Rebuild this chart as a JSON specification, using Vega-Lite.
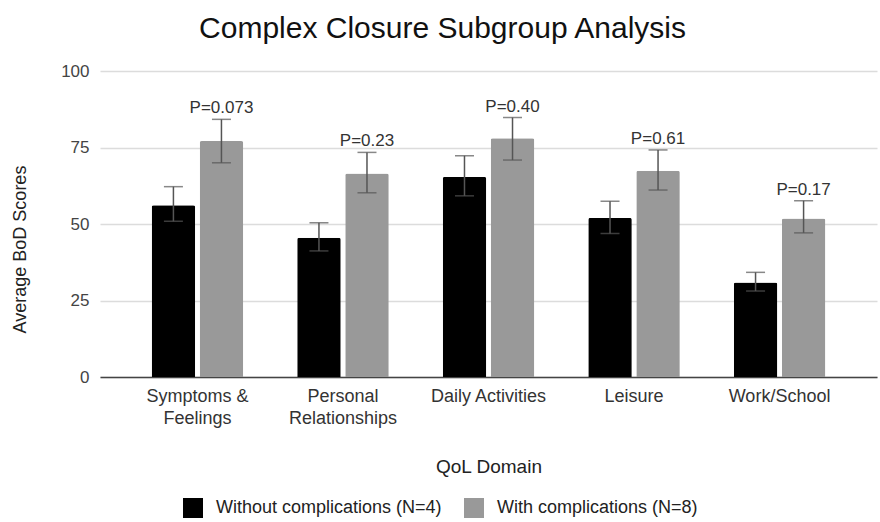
{
  "$schema": "https://vega.github.io/schema/vega-lite/v6.json",
  "width": 777,
  "height": 306,
  "autosize": {"type": "none"},
  "padding": {"left": 100, "top": 71, "right": 3, "bottom": 145},
  "background": "white",
  "config": {"font": "Liberation Sans", "view": {"stroke": null}},
  "title": {"text": "Complex Closure Subgroup Analysis", "fontSize": 30, "fontWeight": "normal", "color": "#111", "anchor": "middle", "dx": -46, "offset": 18},
  "data": {"values": [
    {"domain": "Symptoms & Feelings", "group": "Without complications (N=4)", "mean": 56.1, "lo": 50.9, "hi": 62.2, "p": null},
    {"domain": "Symptoms & Feelings", "group": "With complications (N=8)", "mean": 77.1, "lo": 70.0, "hi": 84.2, "p": "P=0.073"},
    {"domain": "Personal Relationships", "group": "Without complications (N=4)", "mean": 45.5, "lo": 41.2, "hi": 50.4, "p": null},
    {"domain": "Personal Relationships", "group": "With complications (N=8)", "mean": 66.5, "lo": 60.2, "hi": 73.4, "p": "P=0.23"},
    {"domain": "Daily Activities", "group": "Without complications (N=4)", "mean": 65.4, "lo": 59.2, "hi": 72.3, "p": null},
    {"domain": "Daily Activities", "group": "With complications (N=8)", "mean": 78.0, "lo": 70.9, "hi": 84.8, "p": "P=0.40"},
    {"domain": "Leisure", "group": "Without complications (N=4)", "mean": 52.0, "lo": 46.9, "hi": 57.4, "p": null},
    {"domain": "Leisure", "group": "With complications (N=8)", "mean": 67.4, "lo": 61.1, "hi": 74.2, "p": "P=0.61"},
    {"domain": "Work/School", "group": "Without complications (N=4)", "mean": 30.9, "lo": 28.1, "hi": 34.2, "p": null},
    {"domain": "Work/School", "group": "With complications (N=8)", "mean": 51.8, "lo": 47.1, "hi": 57.6, "p": "P=0.17"}
  ]},
  "encoding": {
    "x": {
      "field": "domain", "type": "nominal",
      "sort": ["Symptoms & Feelings", "Personal Relationships", "Daily Activities", "Leisure", "Work/School"],
      "scale": {"paddingInner": 0.371, "paddingOuter": 0.355},
      "axis": {
        "title": "QoL Domain", "titleFontSize": 19, "titleFontWeight": "normal", "titleColor": "#222",
        "titleY": 89, "titleBaseline": "middle",
        "labelAngle": 0, "labelFontSize": 18, "labelColor": "#333", "labelPadding": 10, "labelLineHeight": 22, "labelLimit": 300,
        "labelExpr": "datum.label == 'Symptoms & Feelings' ? ['Symptoms &', 'Feelings'] : datum.label == 'Personal Relationships' ? ['Personal', 'Relationships'] : datum.label",
        "ticks": false, "domain": true, "domainColor": "#444", "domainWidth": 1.5
      }
    },
    "xOffset": {
      "field": "group", "type": "nominal",
      "sort": ["Without complications (N=4)", "With complications (N=8)"],
      "scale": {"paddingInner": 0.094, "paddingOuter": 0}
    }
  },
  "layer": [
    {
      "mark": {"type": "bar", "cornerRadiusTopLeft": 2, "cornerRadiusTopRight": 2},
      "encoding": {
        "y": {
          "field": "mean", "type": "quantitative",
          "scale": {"domain": [0, 100]},
          "axis": {
            "values": [0, 25, 50, 75, 100], "domain": false, "ticks": false,
            "grid": true, "gridColor": "#dcdcdc", "gridWidth": 1.5,
            "labelFontSize": 17, "labelColor": "#444", "labelPadding": 11,
            "title": "Average BoD Scores", "titleFontSize": 18, "titleFontWeight": "normal", "titleColor": "#222",
            "titleX": -80, "titleY": 178, "titleBaseline": "middle", "titleAngle": -90
          }
        },
        "color": {
          "field": "group", "type": "nominal",
          "scale": {"domain": ["Without complications (N=4)", "With complications (N=8)"], "range": ["#000000", "#999999"]},
          "legend": {
            "orient": "none", "legendX": 83, "legendY": 427, "direction": "horizontal", "title": null,
            "symbolType": "square", "symbolSize": 400, "symbolStrokeWidth": 0,
            "labelFontSize": 18, "labelColor": "#222", "labelOffset": 13, "labelLimit": 400, "columnPadding": 22, "padding": 0
          }
        }
      }
    },
    {
      "mark": {"type": "rule", "color": "#555555", "strokeWidth": 1.5},
      "encoding": {
        "y": {"field": "lo", "type": "quantitative"},
        "y2": {"field": "hi"}
      }
    },
    {
      "mark": {"type": "tick", "color": "#555555", "thickness": 1.5, "size": 19, "orient": "horizontal"},
      "encoding": {"y": {"field": "lo", "type": "quantitative"}}
    },
    {
      "mark": {"type": "tick", "color": "#555555", "thickness": 1.5, "size": 19, "orient": "horizontal"},
      "encoding": {"y": {"field": "hi", "type": "quantitative"}}
    },
    {
      "transform": [{"filter": "datum.p != null"}],
      "mark": {"type": "text", "dy": -11, "fontSize": 17, "color": "#333", "baseline": "middle"},
      "encoding": {
        "y": {"field": "hi", "type": "quantitative"},
        "text": {"field": "p", "type": "nominal"}
      }
    }
  ]
}
